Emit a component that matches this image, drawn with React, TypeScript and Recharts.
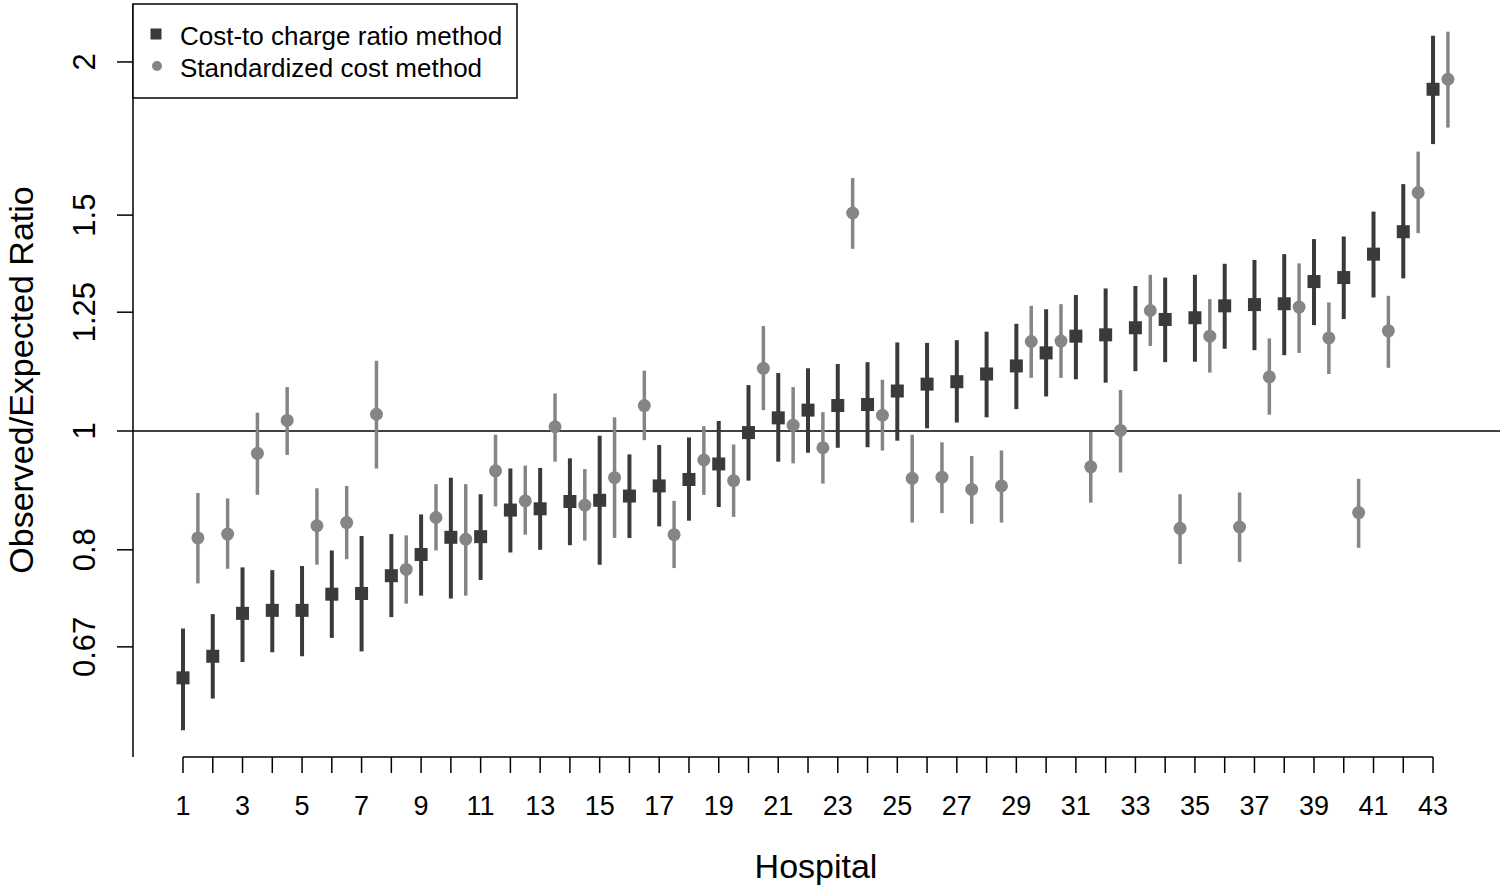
import { ScatterChart, Scatter, XAxis, YAxis, ErrorBar, ReferenceLine } from "recharts";

const FONT = '"Liberation Sans", Arial, Helvetica, sans-serif';

const hospitals = [
  1, 2, 3, 4, 5, 6, 7, 8, 9, 10, 11, 12, 13, 14, 15, 16, 17, 18, 19, 20, 21, 22,
  23, 24, 25, 26, 27, 28, 29, 30, 31, 32, 33, 34, 35, 36, 37, 38, 39, 40, 41, 42, 43,
];

// cost-to-charge ratio method
const ccrRatio = [
  0.629, 0.655, 0.71, 0.714, 0.714, 0.736, 0.737, 0.762, 0.793, 0.819, 0.82, 0.862, 0.864,
  0.876, 0.878, 0.885, 0.902, 0.913, 0.94, 0.997, 1.025, 1.04, 1.049, 1.051, 1.078, 1.092,
  1.097, 1.113, 1.13, 1.158, 1.195, 1.198, 1.214, 1.233, 1.237, 1.265, 1.268, 1.27, 1.324,
  1.334, 1.394, 1.454, 1.9,
];
const ccrLower = [
  0.57, 0.605, 0.648, 0.66, 0.655, 0.678, 0.661, 0.705, 0.734, 0.73, 0.756, 0.796, 0.8,
  0.807, 0.778, 0.818, 0.836, 0.845, 0.867, 0.911, 0.944, 0.96, 0.969, 0.97, 0.982, 1.005,
  1.016, 1.026, 1.042, 1.067, 1.102, 1.095, 1.119, 1.138, 1.139, 1.167, 1.164, 1.153, 1.22,
  1.234, 1.285, 1.332, 1.714,
];
const ccrUpper = [
  0.69, 0.709, 0.774, 0.77, 0.776, 0.799, 0.821, 0.824, 0.855, 0.916, 0.888, 0.932, 0.933,
  0.95, 0.991, 0.957, 0.974, 0.988, 1.019, 1.09, 1.115, 1.125, 1.134, 1.138, 1.181, 1.18,
  1.186, 1.205, 1.223, 1.257, 1.291, 1.307, 1.313, 1.334, 1.341, 1.369, 1.379, 1.394, 1.434,
  1.441, 1.51, 1.59, 2.101,
];

// standardized cost method
const stdRatio = [
  0.818, 0.824, 0.959, 1.02, 0.837, 0.842, 1.032, 0.771, 0.85, 0.816, 0.928, 0.877, 1.008,
  0.87, 0.916, 1.049, 0.823, 0.947, 0.911, 1.125, 1.011, 0.969, 1.506, 1.03, 0.915, 0.917,
  0.896, 0.902, 1.183, 1.184, 0.935, 1.001, 1.254, 0.833, 1.195, 0.835, 1.107, 1.262, 1.191,
  0.858, 1.207, 1.565, 1.936,
];
const stdLower = [
  0.751, 0.772, 0.887, 0.956, 0.778, 0.786, 0.932, 0.723, 0.799, 0.734, 0.868, 0.823, 0.944,
  0.814, 0.818, 0.983, 0.773, 0.887, 0.851, 1.04, 0.941, 0.906, 1.408, 0.964, 0.842, 0.857,
  0.84, 0.842, 1.105, 1.105, 0.874, 0.925, 1.173, 0.779, 1.116, 0.782, 1.031, 1.158, 1.113,
  0.803, 1.126, 1.45, 1.768,
];
const stdUpper = [
  0.89, 0.881, 1.035, 1.086, 0.898, 0.902, 1.141, 0.822, 0.905, 0.905, 0.993, 0.937, 1.073,
  0.931, 1.026, 1.12, 0.877, 1.009, 0.975, 1.218, 1.086, 1.036, 1.608, 1.101, 0.993, 0.979,
  0.954, 0.964, 1.265, 1.269, 0.998, 1.08, 1.341, 0.888, 1.281, 0.891, 1.19, 1.37, 1.273,
  0.914, 1.289, 1.69, 2.117,
];

const yTicks = [0.6667, 0.8, 1, 1.25, 1.5, 2];
const yTickLabels = ["0.67", "0.8", "1", "1.25", "1.5", "2"];

const Y_MIN = 0.5421;
const Y_MAX = 2.23;

const ccrData = hospitals.map((h, i) => ({
  x: h,
  y: ccrRatio[i],
  err: [ccrRatio[i] - ccrLower[i], ccrUpper[i] - ccrRatio[i]],
}));
const stdData = hospitals.map((h, i) => ({
  x: h + 0.5,
  y: stdRatio[i],
  err: [stdRatio[i] - stdLower[i], stdUpper[i] - stdRatio[i]],
}));

const DARK = "#3a3a3a";
const GREY = "#858585";

const SquareDot = (p: any) => (
  <rect x={p.cx - 6.5} y={p.cy - 6.5} width={13} height={13} fill={DARK} />
);
const RoundDot = (p: any) => <circle cx={p.cx} cy={p.cy} r={6.5} fill={GREY} />;

const XTick = (p: any) =>
  p.payload.value % 2 === 1 ? (
    <text x={p.x} y={815} textAnchor="middle" fontSize={27} fontFamily={FONT} fill="#000">
      {p.payload.value}
    </text>
  ) : (
    <g />
  );

const YTick = (p: any) => {
  const idx = yTicks.indexOf(p.payload.value);
  return (
    <text
      transform={`translate(95, ${p.y}) rotate(-90)`}
      textAnchor="middle"
      fontSize={31}
      fontFamily={FONT}
      fill="#000"
    >
      {idx >= 0 ? yTickLabels[idx] : p.payload.value}
    </text>
  );
};

function Legend() {
  return (
    <svg width={386} height={96} style={{ position: "absolute", left: 132, top: 3 }}>
      <rect x={1} y={1} width={384} height={94} fill="#fff" stroke="#000" strokeWidth={1.5} />
      <rect x={18.5} y={25.5} width={11} height={11} fill={DARK} />
      <circle cx={25} cy={63} r={5} fill={GREY} />
      <text x={48} y={42} fontSize={26} fontFamily={FONT} fill="#000">
        Cost-to charge ratio method
      </text>
      <text x={48} y={74} fontSize={26} fontFamily={FONT} fill="#000">
        Standardized cost method
      </text>
    </svg>
  );
}

export default function App() {
  return (
    <div
      style={{
        position: "absolute",
        left: 0,
        top: 0,
        width: 1500,
        height: 885,
        background: "#fff",
        overflow: "hidden",
      }}
    >
      <ScatterChart width={1500} height={885} margin={{ top: 4, right: 0, bottom: 0, left: 0 }}>
        <XAxis
          type="number"
          dataKey="x"
          domain={[-0.68, 45.25]}
          allowDataOverflow
          ticks={hospitals}
          interval={0}
          axisLine={false}
          tickSize={16}
          tickLine={{ stroke: "#000", strokeWidth: 1.5 }}
          tick={XTick}
          height={128}
          label={{
            content: () => (
              <text x={816} y={878} textAnchor="middle" fontSize={34} fontFamily={FONT} fill="#000">
                Hospital
              </text>
            ),
          }}
        />
        <YAxis
          type="number"
          dataKey="y"
          scale="log"
          domain={[Y_MIN, Y_MAX]}
          allowDataOverflow
          ticks={yTicks}
          interval={0}
          width={133}
          tickSize={16}
          axisLine={{ stroke: "#000", strokeWidth: 1.5 }}
          tickLine={{ stroke: "#000", strokeWidth: 1.5 }}
          tick={YTick}
          label={{
            content: () => (
              <text
                transform="translate(33, 380) rotate(-90)"
                textAnchor="middle"
                fontSize={34}
                fontFamily={FONT}
                fill="#000"
              >
                Observed/Expected Ratio
              </text>
            ),
          }}
        />
        <ReferenceLine y={1} stroke="#000" strokeWidth={1.5} />
        <ReferenceLine
          segment={[
            { x: hospitals[0], y: Y_MIN },
            { x: hospitals[hospitals.length - 1], y: Y_MIN },
          ]}
          stroke="#000"
          strokeWidth={1.5}
          ifOverflow="visible"
        />
        <Scatter data={ccrData} shape={SquareDot} isAnimationActive={false}>
          <ErrorBar dataKey="err" direction="y" width={0} stroke={DARK} strokeWidth={4} />
        </Scatter>
        <Scatter data={stdData} shape={RoundDot} isAnimationActive={false}>
          <ErrorBar dataKey="err" direction="y" width={0} stroke={GREY} strokeWidth={3.5} />
        </Scatter>
      </ScatterChart>
      <Legend />
    </div>
  );
}
